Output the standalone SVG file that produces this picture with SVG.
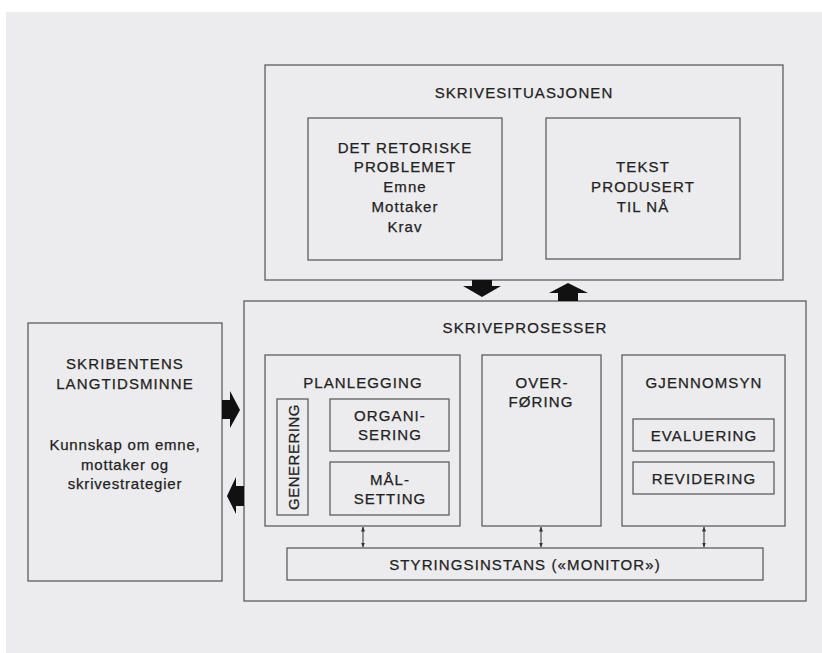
<svg xmlns="http://www.w3.org/2000/svg" width="822" height="653" viewBox="0 0 822 653">
<defs>
<style>
.bx{fill:none;stroke:#5f5f5f;stroke-width:1.3}
.t{font-family:"Liberation Sans",Arial,sans-serif;font-size:15px;letter-spacing:1.1px;fill:#222;stroke:#222;stroke-width:0.25;text-anchor:middle;dominant-baseline:central}
.blk{fill:#111}
.thin{stroke:#333;stroke-width:1;fill:none;marker-start:url(#ah);marker-end:url(#ah)}
</style>
<marker id="ah" viewBox="0 0 10 10" refX="9" refY="5" markerWidth="5" markerHeight="5" orient="auto-start-reverse" markerUnits="userSpaceOnUse">
<path d="M0,1 L10,5 L0,9 Z" fill="#333"/>
</marker>
</defs>
<rect x="0" y="0" width="822" height="653" fill="#ffffff"/>
<rect x="6" y="12" width="816" height="641" fill="#ecebee"/>

<g id="skrivesituasjonen">
<rect class="bx" x="265" y="65" width="518" height="215"/>
<text class="t" x="524" y="92">SKRIVESITUASJONEN</text>
</g>
<g id="retoriske">
<rect class="bx" x="308" y="118" width="194" height="142"/>
<text class="t" x="405" y="147">DET RETORISKE</text>
<text class="t" x="405" y="166">PROBLEMET</text>
<text class="t" x="405" y="186">Emne</text>
<text class="t" x="405" y="206">Mottaker</text>
<text class="t" x="405" y="226">Krav</text>
</g>
<g id="tekst">
<rect class="bx" x="546" y="118" width="194" height="141"/>
<text class="t" x="643" y="166">TEKST</text>
<text class="t" x="643" y="186">PRODUSERT</text>
<text class="t" x="643" y="206">TIL NÅ</text>
</g>

<g id="langtidsminne">
<rect class="bx" x="28" y="323" width="194" height="258"/>
<text class="t" x="125" y="363">SKRIBENTENS</text>
<text class="t" x="125" y="383">LANGTIDSMINNE</text>
<text class="t" x="125" y="444" style="letter-spacing:0.8px">Kunnskap om emne,</text>
<text class="t" x="125" y="464" style="letter-spacing:0.8px">mottaker og</text>
<text class="t" x="125" y="483" style="letter-spacing:0.8px">skrivestrategier</text>
</g>

<g id="skriveprosesser">
<rect class="bx" x="244" y="301" width="562" height="300"/>
<text class="t" x="525" y="327">SKRIVEPROSESSER</text>
</g>
<g id="planlegging">
<rect class="bx" x="265" y="355" width="195" height="171"/>
<text class="t" x="363" y="382">PLANLEGGING</text>
</g>
<g id="generering">
<rect class="bx" x="277" y="399" width="31" height="116"/>
<text class="t" transform="translate(293,457) rotate(-90)" x="0" y="0" style="letter-spacing:0.5px">GENERERING</text>
</g>
<g id="organisering">
<rect class="bx" x="330" y="399" width="119" height="52"/>
<text class="t" x="390" y="415">ORGANI-</text>
<text class="t" x="390" y="434">SERING</text>
</g>
<g id="malsetting">
<rect class="bx" x="330" y="462" width="119" height="53"/>
<text class="t" x="390" y="479">MÅL-</text>
<text class="t" x="390" y="498">SETTING</text>
</g>
<g id="overforing">
<rect class="bx" x="482" y="355" width="119" height="171"/>
<text class="t" x="542" y="382">OVER-</text>
<text class="t" x="541" y="401">FØRING</text>
</g>
<g id="gjennomsyn">
<rect class="bx" x="622" y="355" width="163" height="171"/>
<text class="t" x="704" y="382">GJENNOMSYN</text>
</g>
<g id="evaluering">
<rect class="bx" x="633" y="419" width="141" height="32"/>
<text class="t" x="704" y="435">EVALUERING</text>
</g>
<g id="revidering">
<rect class="bx" x="633" y="462" width="141" height="32"/>
<text class="t" x="704" y="478">REVIDERING</text>
</g>
<g id="monitor">
<rect class="bx" x="287" y="548" width="476" height="32"/>
<text class="t" x="525" y="564">STYRINGSINSTANS («MONITOR»)</text>
</g>

<g id="connectors">
<path class="blk" d="M472,280 H492 V286 H501 L482,297 L463,286 H472 Z"/>
<path class="blk" d="M558,301 H578 V293 H588 L568,283 L549,293 H558 Z"/>
<path class="blk" d="M222,400 H230 V391 L240,410 L230,428 V419 H222 Z"/>
<path class="blk" d="M244,486 H236 V477 L227,496 L236,514 V506 H244 Z"/>
<line class="thin" x1="363" y1="527" x2="363" y2="547"/>
<line class="thin" x1="541" y1="527" x2="541" y2="547"/>
<line class="thin" x1="704" y1="527" x2="704" y2="547"/>
</g>
</svg>
